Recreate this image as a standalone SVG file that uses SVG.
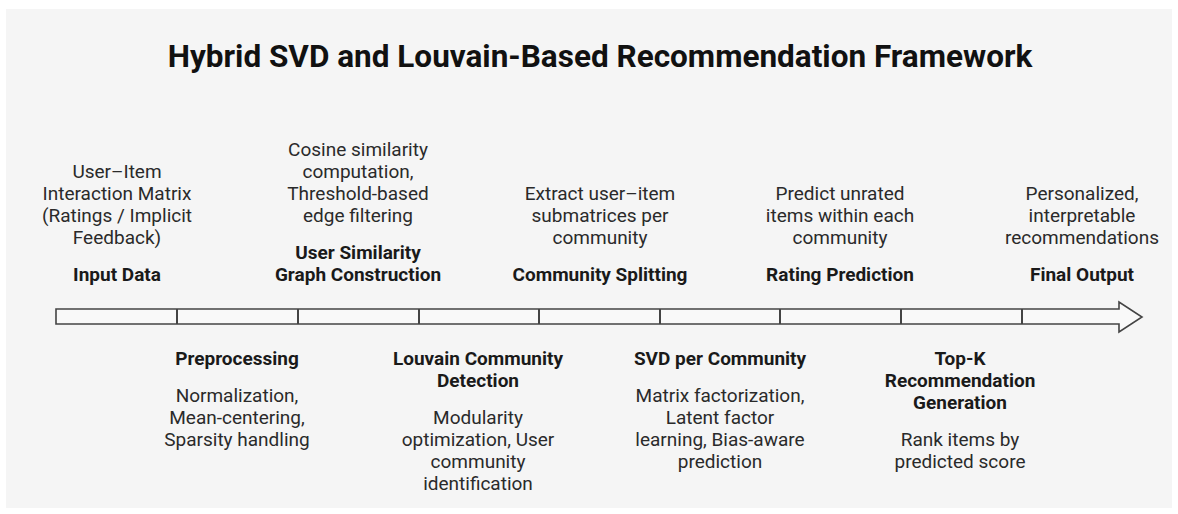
<svg xmlns="http://www.w3.org/2000/svg" width="1178" height="514" viewBox="0 0 1178 514">
  <style>
    .title { font-family: Roboto, "Liberation Sans", sans-serif; font-weight: 700; font-size: 31.5px; fill: #111; text-anchor: middle; }
    .head { font-family: Roboto, "Liberation Sans", sans-serif; font-weight: 700; font-size: 19px; fill: #1a1a1a; text-anchor: middle; }
    .desc { font-family: Roboto, "Liberation Sans", sans-serif; font-weight: 400; font-size: 19px; fill: #2a2a2a; text-anchor: middle; }
    .bar { fill: #f9f9f9; stroke: #444; stroke-width: 1.6; stroke-linejoin: miter; }
    .tick { stroke: #444; stroke-width: 2; }
  </style>

  <!-- page background -->
  <rect x="0" y="0" width="1178" height="514" fill="#ffffff"/>
  <rect x="6" y="9" width="1166" height="499" fill="#f5f5f5"/>

  <text class="title" x="600" y="67">Hybrid SVD and Louvain-Based Recommendation Framework</text>

  <!-- timeline arrow with stage dividers -->
  <g id="connectors">
    <polygon class="bar" points="56,309 1119,309 1119,302 1142,317 1119,332 1119,324 56,324"/>
    <line class="tick" x1="177" y1="309" x2="177" y2="324"/>
    <line class="tick" x1="298" y1="309" x2="298" y2="324"/>
    <line class="tick" x1="419" y1="309" x2="419" y2="324"/>
    <line class="tick" x1="539" y1="309" x2="539" y2="324"/>
    <line class="tick" x1="660" y1="309" x2="660" y2="324"/>
    <line class="tick" x1="780" y1="309" x2="780" y2="324"/>
    <line class="tick" x1="901" y1="309" x2="901" y2="324"/>
    <line class="tick" x1="1022" y1="309" x2="1022" y2="324"/>
  </g>

  <!-- stages above the timeline -->
  <g id="input-data">
    <text class="desc" x="117" y="178">User–Item</text>
    <text class="desc" x="117" y="200">Interaction Matrix</text>
    <text class="desc" x="117" y="222">(Ratings / Implicit</text>
    <text class="desc" x="117" y="244">Feedback)</text>
    <text class="head" x="117" y="281">Input Data</text>
  </g>

  <g id="similarity-graph">
    <text class="desc" x="358" y="156">Cosine similarity</text>
    <text class="desc" x="358" y="178">computation,</text>
    <text class="desc" x="358" y="200">Threshold-based</text>
    <text class="desc" x="358" y="222">edge filtering</text>
    <text class="head" x="358" y="259">User Similarity</text>
    <text class="head" x="358" y="281">Graph Construction</text>
  </g>

  <g id="community-splitting">
    <text class="desc" x="600" y="200">Extract user–item</text>
    <text class="desc" x="600" y="222">submatrices per</text>
    <text class="desc" x="600" y="244">community</text>
    <text class="head" x="600" y="281">Community Splitting</text>
  </g>

  <g id="rating-prediction">
    <text class="desc" x="840" y="200">Predict unrated</text>
    <text class="desc" x="840" y="222">items within each</text>
    <text class="desc" x="840" y="244">community</text>
    <text class="head" x="840" y="281">Rating Prediction</text>
  </g>

  <g id="final-output">
    <text class="desc" x="1082" y="200">Personalized,</text>
    <text class="desc" x="1082" y="222">interpretable</text>
    <text class="desc" x="1082" y="244">recommendations</text>
    <text class="head" x="1082" y="281">Final Output</text>
  </g>

  <!-- stages below the timeline -->
  <g id="preprocessing">
    <text class="head" x="237" y="365">Preprocessing</text>
    <text class="desc" x="237" y="402">Normalization,</text>
    <text class="desc" x="237" y="424">Mean-centering,</text>
    <text class="desc" x="237" y="446">Sparsity handling</text>
  </g>

  <g id="louvain-detection">
    <text class="head" x="478" y="365">Louvain Community</text>
    <text class="head" x="478" y="387">Detection</text>
    <text class="desc" x="478" y="424">Modularity</text>
    <text class="desc" x="478" y="446">optimization, User</text>
    <text class="desc" x="478" y="468">community</text>
    <text class="desc" x="478" y="490">identification</text>
  </g>

  <g id="svd-per-community">
    <text class="head" x="720" y="365">SVD per Community</text>
    <text class="desc" x="720" y="402">Matrix factorization,</text>
    <text class="desc" x="720" y="424">Latent factor</text>
    <text class="desc" x="720" y="446">learning, Bias-aware</text>
    <text class="desc" x="720" y="468">prediction</text>
  </g>

  <g id="top-k-generation">
    <text class="head" x="960" y="365">Top-K</text>
    <text class="head" x="960" y="387">Recommendation</text>
    <text class="head" x="960" y="409">Generation</text>
    <text class="desc" x="960" y="446">Rank items by</text>
    <text class="desc" x="960" y="468">predicted score</text>
  </g>
</svg>
